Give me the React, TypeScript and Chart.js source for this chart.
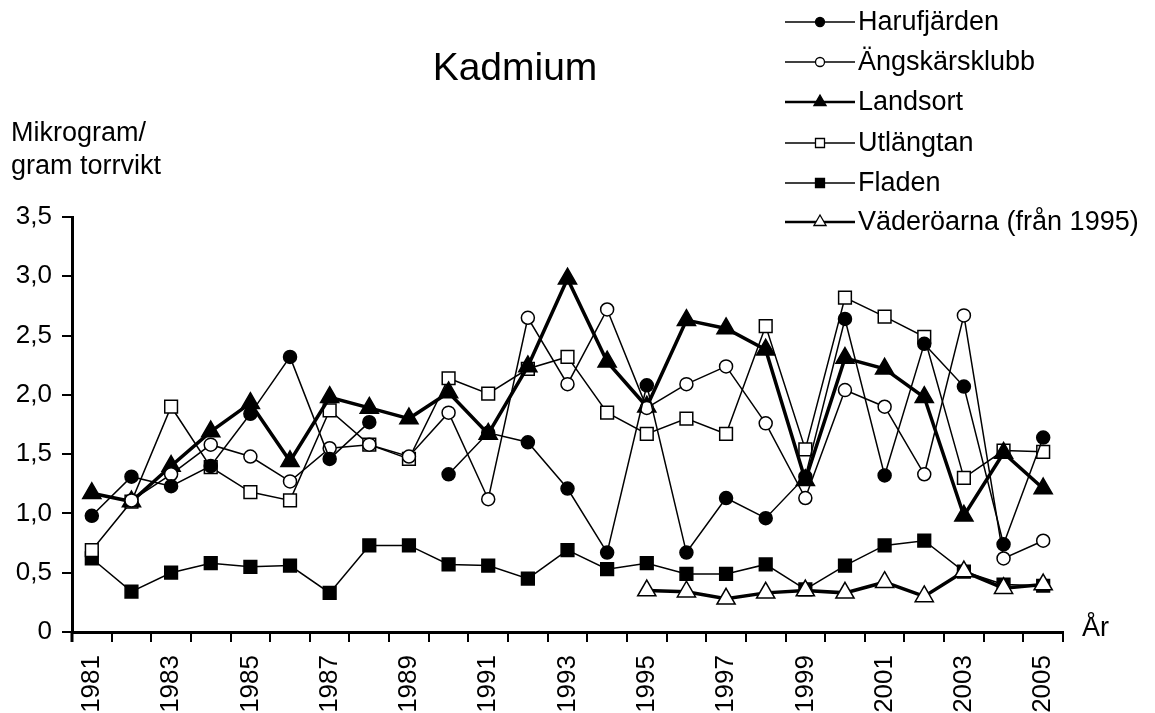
import React, { useEffect, useRef } from 'react';
import { Chart, registerables } from 'chart.js';

Chart.register(...registerables);

const years = ['1981','1982','1983','1984','1985','1986','1987','1988','1989','1990','1991','1992','1993','1994','1995','1996','1997','1998','1999','2000','2001','2002','2003','2004','2005'];
const yTickLabels: Record<string, string> = { '0': '0', '0.5': '0,5', '1': '1,0', '1.5': '1,5', '2': '2,0', '2.5': '2,5', '3': '3,0', '3.5': '3,5' };

const harufjarden = [0.98,1.31,1.23,1.40,1.84,2.32,1.46,1.77,null,1.33,1.68,1.60,1.21,0.67,2.08,0.67,1.13,0.96,1.31,2.64,1.32,2.43,2.07,0.74,1.64];
const angskarsklubb = [null,1.11,1.33,1.58,1.48,1.27,1.55,1.58,1.48,1.85,1.12,2.65,2.09,2.72,1.89,2.09,2.24,1.76,1.13,2.04,1.90,1.33,2.67,0.62,0.77];
const landsort = [1.17,1.10,1.40,1.69,1.93,1.44,1.98,1.89,1.80,2.02,1.67,2.24,2.98,2.28,1.90,2.63,2.56,2.38,1.28,2.31,2.22,1.98,0.98,1.51,1.21];
const utlangtan = [0.69,1.10,1.90,1.39,1.18,1.11,1.87,1.58,1.46,2.14,2.01,2.22,2.32,1.85,1.67,1.80,1.67,2.58,1.54,2.82,2.66,2.49,1.30,1.53,1.52];
const fladen = [0.62,0.34,0.50,0.58,0.55,0.56,0.33,0.73,0.73,0.57,0.56,0.45,0.69,0.53,0.58,0.49,0.49,0.57,0.36,0.56,0.73,0.77,0.51,0.40,0.39];
const vaderoarna = [null,null,null,null,null,null,null,null,null,null,null,null,null,null,0.35,0.34,0.28,0.33,0.35,0.33,0.42,0.30,0.51,0.37,0.40];

const seriesNames = ['Harufjärden', 'Ängskärsklubb', 'Landsort', 'Utlängtan', 'Fladen', 'Väderöarna (från 1995)'];
const drawOrder = [0, 1, 2, 3, 5, 4];
const titleText = 'Kadmium';
const yTitleLines = ['Mikrogram/', 'gram torrvikt'];
const xTitleText = 'År';

const FONT = '"Liberation Sans", Arial, Helvetica, sans-serif';

type Marker = { shape: 'circle' | 'triangle' | 'rect'; fill: string; thick: boolean };
const markers: Marker[] = [
  { shape: 'circle', fill: '#000', thick: false },
  { shape: 'circle', fill: '#fff', thick: false },
  { shape: 'triangle', fill: '#000', thick: true },
  { shape: 'rect', fill: '#fff', thick: false },
  { shape: 'rect', fill: '#000', thick: false },
  { shape: 'triangle', fill: '#fff', thick: true },
];

function drawMarker(ctx: CanvasRenderingContext2D, m: Marker, x: number, y: number) {
  ctx.beginPath();
  if (m.shape === 'circle') {
    ctx.arc(x, y, 4.5, 0, Math.PI * 2);
  } else if (m.shape === 'rect') {
    ctx.rect(x - 4.5, y - 4.5, 9, 9);
  } else {
    const r = 7;
    ctx.moveTo(x, y - r);
    ctx.lineTo(x + r * Math.sin((2 * Math.PI) / 3), y - r * Math.cos((2 * Math.PI) / 3));
    ctx.lineTo(x + r * Math.sin((4 * Math.PI) / 3), y - r * Math.cos((4 * Math.PI) / 3));
    ctx.closePath();
  }
  ctx.fillStyle = m.fill;
  ctx.fill();
  ctx.lineWidth = 1.3;
  ctx.strokeStyle = '#000';
  ctx.stroke();
}

const annotationPlugin = {
  id: 'annotations',
  beforeDatasetsDraw(chart: any) {
    // extend y axis line slightly below the x axis, as in the original
    const ctx: CanvasRenderingContext2D = chart.ctx;
    const a = chart.chartArea;
    ctx.save();
    ctx.beginPath();
    ctx.moveTo(a.left, a.bottom);
    ctx.lineTo(a.left, a.bottom + 10);
    ctx.lineWidth = 3;
    ctx.strokeStyle = '#000';
    ctx.stroke();
    ctx.restore();
  },
  afterDraw(chart: any) {
    const ctx: CanvasRenderingContext2D = chart.ctx;
    ctx.save();
    ctx.fillStyle = '#000';
    // title
    ctx.font = `39px ${FONT}`;
    ctx.textAlign = 'center';
    ctx.textBaseline = 'middle';
    ctx.fillText(titleText, 515, 69);
    // y title
    ctx.font = `27px ${FONT}`;
    ctx.textAlign = 'left';
    ctx.fillText(yTitleLines[0], 11, 134);
    ctx.fillText(yTitleLines[1], 11, 167);
    // x title
    ctx.fillText(xTitleText, 1082, 629);
    // legend
    const rows = [22, 62, 102, 143, 183, 222];
    rows.forEach((ry, i) => {
      const m = markers[i];
      ctx.beginPath();
      ctx.moveTo(785, ry);
      ctx.lineTo(855, ry);
      ctx.lineWidth = m.thick ? 2.6 : 1.3;
      ctx.strokeStyle = '#000';
      ctx.stroke();
      drawMarker(ctx, m, 820, ry);
      ctx.fillStyle = '#000';
      ctx.font = `27px ${FONT}`;
      ctx.textAlign = 'left';
      ctx.textBaseline = 'middle';
      ctx.fillText(seriesNames[i], 858, ry + 1);
    });
    ctx.restore();
  },
};

function makeDataset(i: number, data: (number | null)[]) {
  const m = markers[i];
  const radius = m.shape === 'circle' ? 6.5 : m.shape === 'rect' ? 9 : 10.5;
  return {
    label: seriesNames[i],
    data,
    order: drawOrder[i],
    borderColor: '#000',
    borderWidth: m.thick ? 3.5 : 1.5,
    tension: 0,
    spanGaps: false,
    pointStyle: m.shape,
    pointRadius: radius,
    pointHoverRadius: radius,
    pointBackgroundColor: m.fill,
    pointBorderColor: '#000',
    pointBorderWidth: 1.5,
    fill: false,
  };
}

export default function App() {
  const ref = useRef<HTMLCanvasElement>(null);
  useEffect(() => {
    const tickFont = { family: FONT, size: 26 };
    const chart = new Chart(ref.current as HTMLCanvasElement, {
      type: 'line',
      data: {
        labels: years,
        datasets: [
          makeDataset(0, harufjarden),
          makeDataset(1, angskarsklubb),
          makeDataset(2, landsort),
          makeDataset(3, utlangtan),
          makeDataset(4, fladen),
          makeDataset(5, vaderoarna),
        ] as any,
      },
      options: {
        animation: false,
        responsive: false,
        maintainAspectRatio: false,
        layout: { padding: { top: 217, right: 92, left: 0, bottom: 0 } },
        plugins: {
          legend: { display: false },
          tooltip: { enabled: false },
          title: { display: false },
        },
        scales: {
          x: {
            type: 'category',
            offset: true,
            grid: {
              offset: true,
              drawOnChartArea: false,
              drawTicks: true,
              tickLength: 10,
              color: '#000',
              lineWidth: 2,
            },
            border: { display: true, color: '#000', width: 3 },
            ticks: {
              autoSkip: false,
              minRotation: 90,
              maxRotation: 90,
              padding: 13,
              color: '#000',
              font: tickFont,
              callback: (_v: any, i: number) => (i % 2 === 0 ? years[i] : ''),
            },
            afterFit: (s: any) => {
              s.height = 81;
            },
          },
          y: {
            min: 0,
            max: 3.5,
            grid: {
              drawOnChartArea: false,
              drawTicks: true,
              tickLength: 10,
              color: '#000',
              lineWidth: 2,
            },
            border: { display: true, color: '#000', width: 3 },
            ticks: {
              stepSize: 0.5,
              padding: 10,
              color: '#000',
              font: tickFont,
              callback: (v: any) => yTickLabels[String(v)] ?? String(v),
            },
            afterFit: (s: any) => {
              s.width = 72;
            },
          },
        },
      } as any,
      plugins: [annotationPlugin],
    });
    return () => chart.destroy();
  }, []);
  return (
    <div style={{ position: 'absolute', left: 0, top: 0, width: 1155, height: 713, background: '#fff' }}>
      <canvas ref={ref} width={1155} height={713} style={{ display: 'block', width: 1155, height: 713 }} />
    </div>
  );
}
